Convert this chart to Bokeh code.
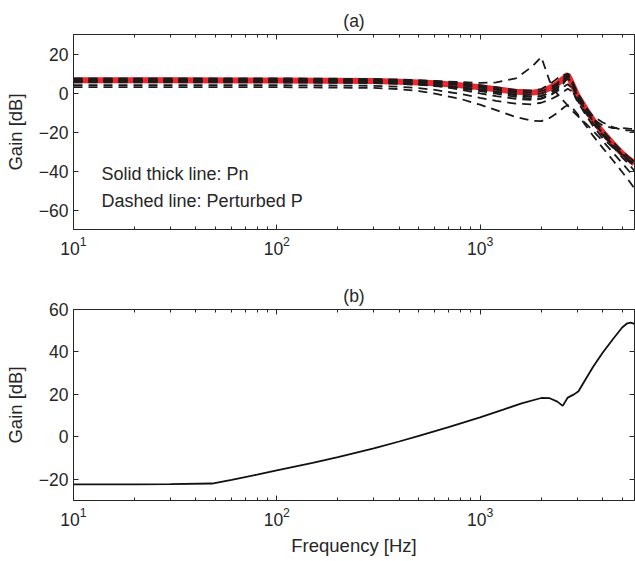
from bokeh.plotting import figure
from bokeh.models import Range1d, LogAxis, LinearAxis, FixedTicker, LogTickFormatter, Label, Title
from bokeh.layouts import column
from bokeh.embed import file_html
from bokeh.resources import INLINE

# ---------------- data ----------------
freq_a = [10, 30, 100, 300, 400, 500, 600, 800, 1000, 1200, 1500, 1800, 2000, 2200,
          2400, 2600, 2700, 2800, 3000, 3300, 3600, 4000, 4500, 5000, 5400, 5750]

pn_gain = [6.5, 6.5, 6.4, 6.1, 5.8, 5.4, 5.0, 4.0, 2.9, 1.9, 0.6, 0.2, 0.8, 2.5,
           4.8, 7.8, 9.3, 6.0, -1.0, -8.0, -14.0, -20.0, -26.0, -31.0, -34.0, -36.0]

perturbed = [
    [7.2, 7.2, 7.1, 6.8, 6.4, 6.0, 5.5, 4.5, 3.3, 2.2, 0.8, 0.3, 0.9, 2.6,
     5.0, 8.5, 10.0, 7.5, 0.5, -7.0, -13.0, -19.0, -25.0, -30.0, -33.0, -35.0],
    [6.0, 6.0, 5.9, 5.6, 5.2, 4.7, 4.2, 3.0, 1.8, 0.6, -1.0, -1.8, -1.5, 0.0,
     2.5, 6.0, 7.5, 6.0, -1.0, -8.5, -14.5, -21.0, -27.0, -32.0, -35.0, -37.5],
    [5.5, 5.5, 5.4, 5.1, 4.7, 4.2, 3.6, 2.3, 1.0, -0.3, -2.0, -3.0, -2.6, -1.0,
     1.5, 5.5, 8.0, 6.5, -2.0, -9.0, -13.5, -16.5, -18.0, -18.0, -18.3, -18.5],
    [6.6, 6.6, 6.5, 6.2, 5.9, 5.5, 5.0, 4.0, 2.8, 1.6, 0.0, -0.8, -0.3, 1.5,
     4.0, 7.5, 9.0, 7.0, 0.0, -7.5, -12.0, -15.0, -17.5, -19.0, -19.2, -19.5],
    [6.5, 6.5, 6.5, 6.4, 6.3, 6.1, 6.0, 5.6, 5.2, 5.4, 7.5, 13.5, 18.5, 6.0,
     -0.5, -4.5, -6.5, -8.5, -11.5, -15.5, -19.5, -24.5, -30.5, -36.0, -40.0, -43.0],
    [3.0, 3.0, 3.0, 2.6, 2.0, 1.0, -0.3, -3.0, -6.0, -8.8, -12.3, -14.2, -14.4, -12.8,
     -10.2, -7.2, -6.2, -6.8, -10.5, -16.5, -22.0, -28.0, -34.5, -40.5, -45.0, -49.0],
    [4.0, 4.0, 4.0, 3.7, 3.2, 2.5, 1.6, -0.5, -2.5, -4.0, -5.5, -5.8, -5.0, -3.5,
     -1.5, 1.0, 2.2, 1.2, -3.5, -10.0, -15.5, -21.5, -27.5, -33.0, -36.5, -40.0],
    [5.8, 5.8, 5.7, 5.4, 5.0, 4.5, 4.0, 2.8, 1.6, 0.5, -1.2, -2.0, -1.6, 0.2,
     3.0, 6.5, 8.5, 7.0, 0.0, -7.0, -13.5, -20.5, -26.5, -31.5, -34.5, -36.5],
    [7.5, 7.5, 7.5, 7.2, 6.9, 6.6, 6.2, 5.2, 4.0, 3.0, 1.5, 1.2, 2.0, 4.5,
     7.5, 9.5, 8.0, 5.0, -2.0, -9.0, -14.5, -20.5, -26.5, -31.5, -34.5, -36.0],
    [6.2, 6.2, 6.1, 5.8, 5.3, 4.6, 3.8, 1.8, -0.2, -1.6, -3.0, -3.5, -3.0, -1.5,
     1.0, 3.5, 4.5, 3.0, -4.0, -11.0, -17.0, -23.0, -28.0, -31.5, -33.5, -35.0],
]

freq_b = [10, 20, 30, 48, 60, 80, 100, 150, 200, 300, 400, 500, 700, 1000, 1300,
          1600, 2000, 2200, 2400, 2550, 2700, 2900, 3050, 3300, 3600, 4000, 4500,
          5000, 5300, 5500, 5750]
gain_b = [-22.4, -22.4, -22.3, -22.0, -20.3, -17.8, -15.8, -12.3, -9.6, -5.4, -2.2,
          0.5, 4.6, 9.2, 12.8, 15.8, 18.3, 18.2, 16.6, 14.6, 18.5, 20.0, 21.5, 27.0,
          33.0, 39.5, 46.0, 51.5, 53.5, 53.8, 53.2]

x_ticks = [10, 100, 1000]
y_ticks_a = [-60, -40, -20, 0, 20]
y_ticks_b = [-20, 0, 20, 40, 60]

title_a = "(a)"
title_b = "(b)"
ylab = "Gain [dB]"
xlab = "Frequency [Hz]"
note1 = "Solid thick line: Pn"
note2 = "Dashed line: Perturbed P"

FONT = "Liberation Sans"
TXT = "#262626"
minor_x = [d * m for d in x_ticks for m in range(2, 10)]


def minus(v):
    return ("\u2212" + str(-v)) if v < 0 else str(v)


def style(p, yticks, ttl, standoff):
    p.title = Title(text=ttl, align="center", text_font=FONT, text_font_size="17.5px",
                    text_font_style="normal", text_color=TXT, standoff=standoff)
    p.outline_line_color = "#262626"
    p.outline_line_width = 1
    p.xgrid.visible = False
    p.ygrid.visible = False
    xt = FixedTicker(ticks=x_ticks, minor_ticks=minor_x)
    yt = FixedTicker(ticks=yticks, minor_ticks=[])
    for ax in p.xaxis:
        ax.ticker = xt
        ax.formatter = LogTickFormatter()
    for ax in p.yaxis:
        ax.ticker = yt
        ax.major_label_overrides = {v: minus(v) for v in yticks}
    for ax in list(p.xaxis) + list(p.yaxis):
        ax.major_tick_in = 5
        ax.major_tick_out = 0
        ax.minor_tick_in = 3
        ax.minor_tick_out = 0
        ax.axis_line_color = "#262626"
        ax.major_tick_line_color = "#262626"
        ax.minor_tick_line_color = "#262626"
        ax.major_label_text_font = FONT
        ax.major_label_text_font_size = "17.5px"
        ax.major_label_text_color = TXT
        ax.axis_label_text_font = FONT
        ax.axis_label_text_font_size = "18.5px"
        ax.axis_label_text_font_style = "normal"
        ax.axis_label_text_color = TXT
    p.yaxis.major_label_standoff = 5
    p.xaxis.major_label_standoff = 6
    p.yaxis.axis_label = ylab
    p.yaxis.axis_label_standoff = 10
    # box ticks on top / right (no labels)
    top = LogAxis(ticker=xt, major_tick_in=5, major_tick_out=0, minor_tick_in=3,
                  minor_tick_out=0, major_label_overrides={v: "" for v in x_ticks},
                  major_label_text_font_size="1px",
                  major_label_standoff=0, axis_line_color="#262626",
                  major_tick_line_color="#262626", minor_tick_line_color="#262626")
    right = LinearAxis(ticker=yt, major_tick_in=5, major_tick_out=0,
                       major_label_overrides={v: "" for v in yticks},
                       major_label_text_font_size="1px", major_label_standoff=0,
                       axis_line_color="#262626", major_tick_line_color="#262626")
    p.add_layout(top, "above")
    p.add_layout(right, "right")


pa = figure(width=635, height=280, x_axis_type="log", output_backend="svg",
            toolbar_location=None, x_range=Range1d(10, 5750), y_range=Range1d(-70, 30),
            min_border_left=73, min_border_right=1, min_border_top=34,
            min_border_bottom=51)
style(pa, y_ticks_a, title_a, 7)

pa.line(freq_a, pn_gain, line_color="#ee1c24", line_width=6, line_alpha=0.95)
for g in perturbed:
    pa.line(freq_a, g, line_color="#1a1a1a", line_width=1.8, line_dash="9 6")

pa.add_layout(Label(x=13.74, y=-41.6, text=note1, text_font=FONT, text_font_size="18px",
                    text_color=TXT, text_baseline="alphabetic"))
pa.add_layout(Label(x=13.74, y=-55.2, text=note2, text_font=FONT, text_font_size="18px",
                    text_color=TXT, text_baseline="alphabetic"))

pb = figure(width=635, height=280, x_axis_type="log", output_backend="svg",
            toolbar_location=None, x_range=Range1d(10, 5750), y_range=Range1d(-30, 60),
            min_border_left=73, min_border_right=1, min_border_top=29,
            min_border_bottom=60)
style(pb, y_ticks_b, title_b, 7)
pb.below[0].axis_label = xlab
pb.below[0].axis_label_standoff = 6
pb.line(freq_b, gain_b, line_color="#111111", line_width=1.8)

layout = column(pa, pb)
open("out.html", "w").write(file_html(layout, INLINE))
